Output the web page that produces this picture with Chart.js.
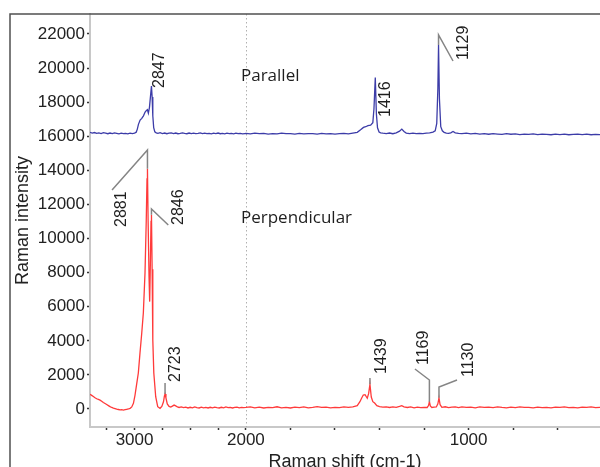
<!DOCTYPE html>
<html>
<head>
<meta charset="utf-8">
<title>Raman spectra</title>
<script src="https://cdn.jsdelivr.net/npm/chart.js@4"></script>
<style>
  html, body { margin: 0; padding: 0; background: #fff; overflow: hidden; }
  #wrap { width: 600px; height: 480px; }
</style>
</head>
<body>
<div id="wrap"><canvas id="raman" width="600" height="480"></canvas></div>
<script>
// Espectro paralelo (azul)
const parallelShift = [
  3400, 3380, 3360, 3340, 3320, 3300, 3280, 3260, 3240, 3220,
  3200, 3180, 3160, 3140, 3120, 3100, 3080, 3060, 3040, 3020,
  3000, 2985, 2975, 2965, 2950, 2935, 2920, 2905, 2895, 2885,
  2876, 2866, 2856, 2848, 2842, 2836, 2828, 2818, 2805, 2790,
  2770, 2750, 2730, 2710, 2690, 2670, 2650, 2630, 2610, 2590,
  2570, 2550, 2530, 2510, 2490, 2470, 2450, 2430, 2410, 2390,
  2370, 2350, 2330, 2310, 2290, 2270, 2250, 2230, 2210, 2190,
  2170, 2150, 2130, 2110, 2090, 2070, 2050, 2030, 2010, 2000,
  1980, 1960, 1940, 1920, 1900, 1880, 1860, 1840, 1820, 1800,
  1780, 1760, 1740, 1720, 1700, 1680, 1660, 1640, 1620, 1600,
  1580, 1560, 1540, 1520, 1500, 1485, 1472, 1462, 1452, 1440,
  1430, 1425, 1419, 1414, 1409, 1402, 1395, 1385, 1370, 1355,
  1340, 1325, 1310, 1300, 1290, 1280, 1265, 1250, 1235, 1220,
  1205, 1190, 1175, 1160, 1150, 1143, 1138, 1135, 1131, 1125,
  1118, 1110, 1100, 1090, 1080, 1070, 1060, 1045, 1030, 1010,
  990, 970, 950, 930, 910, 890, 870, 850, 830, 810,
  790, 770, 750, 730, 710, 690, 670, 650, 630, 610,
  590, 570, 550, 530, 510, 490, 470, 450, 430, 410
];
const parallelIntensity = [
  16230, 16190, 16220, 16170, 16200, 16160, 16210, 16180, 16150, 16190,
  16160, 16200, 16170, 16140, 16180, 16150, 16170, 16140, 16180, 16160,
  16190, 16240, 16420, 16700, 16950, 17050, 17200, 17420, 17500, 17560,
  17350, 17700, 18400, 18950, 18300, 17200, 16500, 16260, 16200, 16170,
  16210, 16160, 16190, 16150, 16180, 16200, 16160, 16190, 16150, 16170,
  16200, 16170, 16150, 16190, 16160, 16180, 16150, 16170, 16200, 16160,
  16180, 16150, 16170, 16140, 16180, 16160, 16190, 16150, 16170, 16140,
  16180, 16160, 16170, 16140, 16180, 16150, 16170, 16140, 16160, 16170,
  16140, 16180, 16150, 16170, 16130, 16160, 16140, 16180, 16150, 16160,
  16130, 16170, 16140, 16160, 16150, 16130, 16170, 16140, 16160, 16130,
  16150, 16170, 16140, 16190, 16230, 16380, 16520, 16560, 16620, 16650,
  16800, 17600, 19450, 17300, 16500, 16250, 16200, 16180, 16160, 16190,
  16150, 16200, 16300, 16420, 16280, 16190, 16160, 16180, 16150, 16170,
  16160, 16180, 16200, 16240, 16320, 16750, 18800, 21350, 18200, 16560,
  16320, 16230, 16190, 16170, 16200, 16280, 16200, 16170, 16150, 16180,
  16140, 16170, 16130, 16160, 16120, 16150, 16130, 16110, 16150, 16120,
  16140, 16100, 16130, 16110, 16140, 16100, 16130, 16110, 16090, 16130,
  16100, 16120, 16090, 16110, 16130, 16100, 16120, 16090, 16110, 16100
];

// Espectro perpendicular (rojo)
const perpShift = [
  3400, 3385, 3370, 3355, 3340, 3325, 3310, 3295, 3280, 3265,
  3250, 3235, 3220, 3205, 3190, 3175, 3160, 3145, 3130, 3115,
  3100, 3085, 3070, 3055, 3040, 3025, 3010, 2996, 2980, 2966,
  2951, 2936, 2921, 2906, 2895, 2888, 2884, 2878, 2870, 2864,
  2858, 2852, 2848, 2842, 2836, 2827, 2810, 2792, 2771, 2755,
  2740, 2732, 2726, 2718, 2706, 2690, 2675, 2660, 2645, 2630,
  2615, 2600, 2580, 2560, 2540, 2520, 2500, 2480, 2460, 2440,
  2420, 2400, 2380, 2360, 2340, 2320, 2300, 2280, 2260, 2240,
  2220, 2200, 2180, 2160, 2140, 2120, 2100, 2080, 2060, 2040,
  2020, 2000, 1980, 1960, 1940, 1920, 1900, 1880, 1860, 1840,
  1820, 1800, 1780, 1760, 1740, 1720, 1700, 1680, 1660, 1640,
  1620, 1600, 1580, 1560, 1540, 1520, 1500, 1488, 1480, 1473,
  1465, 1455, 1449, 1443, 1437, 1430, 1422, 1412, 1400, 1385,
  1370, 1355, 1340, 1325, 1310, 1300, 1290, 1275, 1260, 1245,
  1230, 1215, 1200, 1186, 1180, 1176, 1172, 1165, 1155, 1145,
  1138, 1133, 1128, 1120, 1105, 1090, 1075, 1060, 1045, 1030,
  1010, 990, 970, 950, 930, 910, 890, 870, 850, 830,
  810, 790, 770, 750, 730, 710, 690, 670, 650, 630,
  610, 590, 570, 550, 530, 510, 490, 470, 450, 430,
  410
];
const perpIntensity = [
  870, 800, 730, 660, 600, 560, 520, 450, 380, 320,
  260, 200, 140, 90, 50, 20, -10, -30, -50, -40,
  -60, -40, -20, 0, 40, 120, 330, 800, 1500, 2110,
  3290, 4400, 5630, 7980, 11000, 13500, 14100, 11000, 7800, 6300,
  8500, 11000, 11400, 8200, 4050, 2110, 720, 135, 40, 150,
  420, 750, 880, 650, 300, 150, 110, 170, 230, 180,
  120, 90, 120, 80, 110, 60, 100, 70, 120, 80,
  60, 110, 70, 90, 60, 100, 70, 110, 80, 60,
  100, 70, 120, 80, 100, 60, 90, 110, 70, 100,
  80, 90, 120, 70, 110, 60, 100, 80, 130, 70,
  100, 60, 110, 80, 120, 70, 100, 140, 90, 110,
  70, 100, 80, 120, 90, 130, 200, 430, 650, 820,
  840, 630, 900, 1450, 700, 430, 350, 200, 140, 110,
  130, 90, 120, 100, 150, 200, 130, 90, 120, 70,
  110, 80, 100, 90, 200, 430, 180, 90, 110, 120,
  300, 660, 250, 100, 130, 80, 110, 130, 80, 120,
  90, 110, 70, 120, 90, 110, 80, 120, 90, 70,
  110, 80, 120, 90, 100, 70, 110, 80, 100, 70,
  110, 90, 120, 80, 100, 70, 110, 90, 120, 80,
  100
];

// Ejes
const yTicks = [0, 2000, 4000, 6000, 8000, 10000, 12000, 14000, 16000, 18000, 20000, 22000];
const xTicks = [3250, 3000, 2750, 2500, 2250, 2000, 1800, 1600, 1400, 1200, 1000, 800, 600];
const xLabels = [3000, 2000, 1000];

// Etiquetas de picos: [texto, punto de anclaje, línea guía]
const peakNotes = [
  { text: '2847', at: [2771, 18833] },
  { text: '1416', at: [1371, 17131] },
  { text: '1129', at: [1021, 20475], line: [[1135, 21350], [1135, 21942], [1070, 20416]] },
  { text: '2881', at: [3112, 10678], line: [[2884, 14100], [2884, 15195], [3202, 12848]] },
  { text: '2846', at: [2600, 10795], line: [[2848, 11400], [2848, 11733], [2697, 10795]] },
  { text: '2723', at: [2628, 1584], line: [[2726, 880], [2726, 1525]] },
  { text: '1439', at: [1389, 2053], line: [[1443, 1450], [1443, 1819]] },
  { text: '1169', at: [1200, 2581], line: [[1176, 430], [1176, 1701], [1241, 2347]] },
  { text: '1130', at: [998, 1877], line: [[1133, 660], [1133, 1291], [1052, 1701]] }
];
const seriesNotes = [
  { text: 'Parallel', at: [2044, 19536] },
  { text: 'Perpendicular', at: [2044, 11206] }
];

// Por encima de 2000 cm-1 el eje va comprimido a la mitad
function squeeze(v) {
  return v <= 2000 ? v : 2000 + (v - 2000) / 2;
}
function unsqueeze(u) {
  return u <= 2000 ? u : 2000 + (u - 2000) * 2;
}
function toPoints(xs, ys) {
  return xs.map((v, i) => ({ x: squeeze(v), y: ys[i] }));
}

const sansFont = '"Liberation Sans", Arial, sans-serif';

const extras = {
  id: 'extras',
  beforeDatasetsDraw(chart) {
    const { ctx, chartArea, scales } = chart;
    const x = scales.x.getPixelForValue(squeeze(2000));
    ctx.save();
    ctx.strokeStyle = '#b0b0b0';
    ctx.lineWidth = 1;
    ctx.setLineDash([1.5, 2.5]);
    ctx.beginPath();
    ctx.moveTo(Math.round(x) + 0.5, chartArea.top);
    ctx.lineTo(Math.round(x) + 0.5, chartArea.bottom);
    ctx.stroke();
    ctx.restore();
  },
  afterDatasetsDraw(chart) {
    const { ctx, scales } = chart;
    const px = v => scales.x.getPixelForValue(squeeze(v));
    const py = y => scales.y.getPixelForValue(y);
    ctx.save();
    ctx.strokeStyle = '#858585';
    ctx.lineWidth = 1.5;
    peakNotes.forEach(n => {
      if (!n.line) return;
      ctx.beginPath();
      n.line.forEach(([v, y], i) => {
        if (i === 0) ctx.moveTo(px(v), py(y));
        else ctx.lineTo(px(v), py(y));
      });
      ctx.stroke();
    });
    ctx.fillStyle = '#1e1e1e';
    ctx.font = '16px ' + sansFont;
    ctx.textAlign = 'left';
    ctx.textBaseline = 'middle';
    peakNotes.forEach(n => {
      ctx.save();
      ctx.translate(px(n.at[0]), py(n.at[1]));
      ctx.rotate(-Math.PI / 2);
      ctx.fillText(n.text, 0, 0);
      ctx.restore();
    });
    ctx.font = '17px "Open Sans", sans-serif';
    seriesNotes.forEach(n => {
      ctx.fillText(n.text, px(n.at[0]), py(n.at[1]));
    });
    ctx.restore();
  },
  afterDraw(chart) {
    const { ctx, chartArea } = chart;
    ctx.save();
    ctx.strokeStyle = '#505050';
    ctx.lineWidth = 1.5;
    ctx.beginPath();
    ctx.moveTo(10, chart.height);
    ctx.lineTo(10, chartArea.top);
    ctx.lineTo(chart.width, chartArea.top);
    ctx.stroke();
    ctx.restore();
  }
};

new Chart(document.getElementById('raman'), {
  type: 'line',
  data: {
    datasets: [
      {
        label: 'Parallel',
        data: toPoints(parallelShift, parallelIntensity),
        borderColor: '#3c3ca8',
        borderWidth: 1.3,
        pointRadius: 0,
        tension: 0
      },
      {
        label: 'Perpendicular',
        data: toPoints(perpShift, perpIntensity),
        borderColor: '#ff3a3a',
        borderWidth: 1.3,
        pointRadius: 0,
        tension: 0
      }
    ]
  },
  options: {
    responsive: false,
    animation: false,
    devicePixelRatio: 1,
    layout: { padding: { top: 14, left: 0, right: 0, bottom: 0 } },
    plugins: {
      legend: { display: false },
      tooltip: { enabled: false }
    },
    scales: {
      x: {
        type: 'linear',
        reverse: true,
        min: 410,
        max: 2700,
        afterBuildTicks: s => { s.ticks = xTicks.map(v => ({ value: squeeze(v) })); },
        afterFit: s => { s.height = 53; },
        ticks: {
          autoSkip: false,
          maxRotation: 0,
          padding: 0,
          color: '#222',
          font: { family: sansFont, size: 17 },
          callback: val => {
            const w = Math.round(unsqueeze(val));
            return xLabels.includes(w) ? String(w) : '';
          }
        },
        grid: { drawOnChartArea: false, tickLength: 3, tickColor: '#333', tickWidth: 1.5 },
        border: { color: '#c8c8c8', width: 2 },
        title: {
          display: true,
          text: 'Raman shift (cm-1)',
          color: '#222',
          font: { family: sansFont, size: 18 },
          padding: { top: 0, bottom: 7 }
        }
      },
      y: {
        min: -1056,
        max: 23173,
        afterBuildTicks: s => { s.ticks = yTicks.map(v => ({ value: v })); },
        afterFit: s => { s.width = 90; },
        ticks: {
          padding: 2,
          color: '#222',
          font: { family: sansFont, size: 17 },
          callback: val => String(val)
        },
        grid: { drawOnChartArea: false, tickLength: 3, tickColor: '#333', tickWidth: 1.5 },
        border: { color: '#c8c8c8', width: 2 },
        title: {
          display: true,
          text: 'Raman intensity',
          color: '#222',
          font: { family: sansFont, size: 18 },
          padding: { top: 12, bottom: 0 }
        }
      }
    }
  },
  plugins: [extras]
});
</script>
</body>
</html>
